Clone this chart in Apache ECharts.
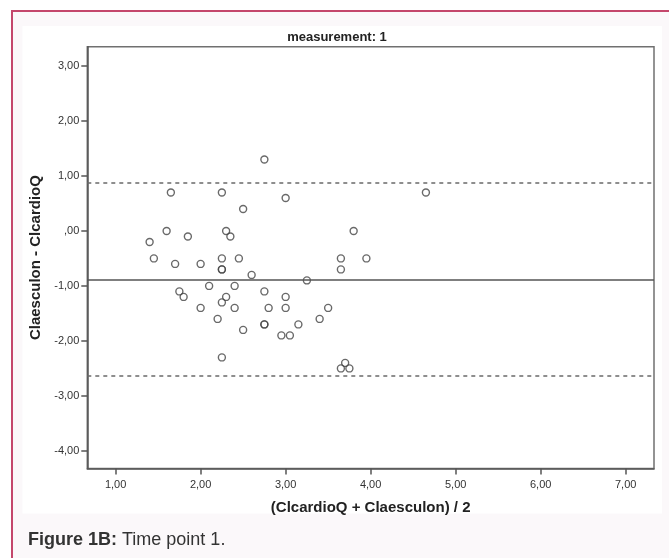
<!DOCTYPE html>
<html>
<head>
<meta charset="utf-8">
<script src="https://cdn.jsdelivr.net/npm/echarts@6/dist/echarts.min.js"></script>
<style>
  html, body { margin: 0; padding: 0; background: #fff; }
  #main { width: 669px; height: 558px; }
</style>
</head>
<body>
<div id="main"></div>
<script>
// (ClcardioQ + Claesculon) / 2  -> x
var avgValues = [
    1.40, 1.45, 1.60, 1.65, 1.70, 1.75, 1.80, 1.85, 2.00, 2.00,
    2.10, 2.20, 2.25, 2.25, 2.25, 2.25, 2.25, 2.25, 2.30, 2.30,
    2.35, 2.40, 2.40, 2.45, 2.50, 2.50, 2.60, 2.75, 2.75, 2.75,
    2.75, 2.80, 2.95, 3.00, 3.00, 3.00, 3.05, 3.15, 3.25, 3.40,
    3.50, 3.65, 3.65, 3.65, 3.70, 3.75, 3.80, 3.95, 4.65
];
// Claesculon - ClcardioQ -> y
var diffValues = [
    -0.2, -0.5, 0.0, 0.7, -0.6, -1.1, -1.2, -0.1, -0.6, -1.4,
    -1.0, -1.6, 0.7, -0.5, -0.7, -0.7, -1.3, -2.3, 0.0, -1.2,
    -0.1, -1.0, -1.4, -0.5, 0.4, -1.8, -0.8, 1.3, -1.1, -1.7,
    -1.7, -1.4, -1.9, 0.6, -1.2, -1.4, -1.9, -1.7, -0.9, -1.6,
    -1.4, -0.5, -0.7, -2.5, -2.4, -2.5, 0.0, -0.5, 0.7
];
// mean difference and limits of agreement
var meanDiff = -0.88;
var limitValues = [0.88, -2.64];

var xTicks = [1, 2, 3, 4, 5, 6, 7];
var yTicks = [3, 2, 1, 0, -1, -2, -3, -4];

var points = avgValues.map(function (x, i) { return [x, diffValues[i]]; });

function fmt(v) {
    if (v === 0) return ',00';
    return v.toFixed(2).replace('.', ',');
}

var FONT = '"Liberation Sans", Arial, sans-serif';

var chart = echarts.init(document.getElementById('main'));
chart.setOption({
    backgroundColor: '#ffffff',
    animation: false,
    graphic: [
        {
            type: 'rect', z: -20, silent: true,
            shape: { x: 12, y: 11, width: 700, height: 600 },
            style: { fill: '#fbf8fa', stroke: '#c4476c', lineWidth: 2 }
        },
        {
            type: 'rect', z: -10, silent: true,
            shape: { x: 22.5, y: 26, width: 639.5, height: 487.5 },
            style: { fill: '#ffffff' }
        },
        {
            type: 'text', silent: true,
            style: {
                x: 337, y: 37, text: 'measurement: 1',
                font: 'bold 13px ' + FONT, fill: '#222',
                textAlign: 'center', textVerticalAlign: 'middle'
            }
        },
        {
            type: 'text', silent: true,
            style: {
                x: 28, y: 540,
                text: '{b|Figure 1B:} Time point 1.',
                textVerticalAlign: 'middle',
                rich: {
                    b: { fontWeight: 'bold', fontSize: 18, fontFamily: FONT, fill: '#333' }
                },
                fontSize: 18, fontFamily: FONT, fill: '#333'
            }
        }
    ],
    grid: {
        left: 87.3, top: 46.7, right: 15, bottom: 89.5,
        show: true, borderColor: '#707070', borderWidth: 1.5,
        backgroundColor: 'transparent'
    },
    xAxis: {
        type: 'value',
        min: 0.667, max: 7.333,
        name: '(ClcardioQ + Claesculon) / 2',
        nameLocation: 'middle', nameGap: 32,
        nameTextStyle: { fontFamily: FONT, fontWeight: 'bold', fontSize: 15, color: '#222' },
        axisLine: { show: true, onZero: false, lineStyle: { color: '#555', width: 1.5 } },
        axisTick: { show: true, customValues: xTicks, length: 6, lineStyle: { color: '#555', width: 1.5 } },
        axisLabel: { customValues: xTicks, formatter: fmt, margin: 11, fontFamily: FONT, fontSize: 11, color: '#333' },
        splitLine: { show: false }
    },
    yAxis: {
        type: 'value',
        min: -4.32, max: 3.35,
        name: 'Claesculon - ClcardioQ',
        nameLocation: 'middle', nameGap: 43, nameRotate: 90,
        nameTextStyle: { fontFamily: FONT, fontWeight: 'bold', fontSize: 15, color: '#222' },
        axisLine: { show: true, onZero: false, lineStyle: { color: '#555', width: 1.5 } },
        axisTick: { show: true, customValues: yTicks, length: 6, lineStyle: { color: '#555', width: 1.5 } },
        axisLabel: { customValues: yTicks, formatter: fmt, margin: 8, fontFamily: FONT, fontSize: 11, color: '#333' },
        splitLine: { show: false }
    },
    series: [
        {
            type: 'scatter',
            data: points,
            symbol: 'circle',
            symbolSize: 7,
            itemStyle: { color: 'rgba(255,255,255,0)', borderColor: '#444', borderWidth: 1.4 },
            markLine: {
                silent: true,
                symbol: 'none',
                label: { show: false },
                data: [
                    { yAxis: meanDiff, lineStyle: { type: 'solid', color: '#555', width: 1.5 } },
                    { yAxis: limitValues[0], lineStyle: { type: [4, 4], color: '#6a6a6a', width: 1.5 } },
                    { yAxis: limitValues[1], lineStyle: { type: [4, 4], color: '#6a6a6a', width: 1.5 } }
                ]
            }
        }
    ]
});
</script>
</body>
</html>
